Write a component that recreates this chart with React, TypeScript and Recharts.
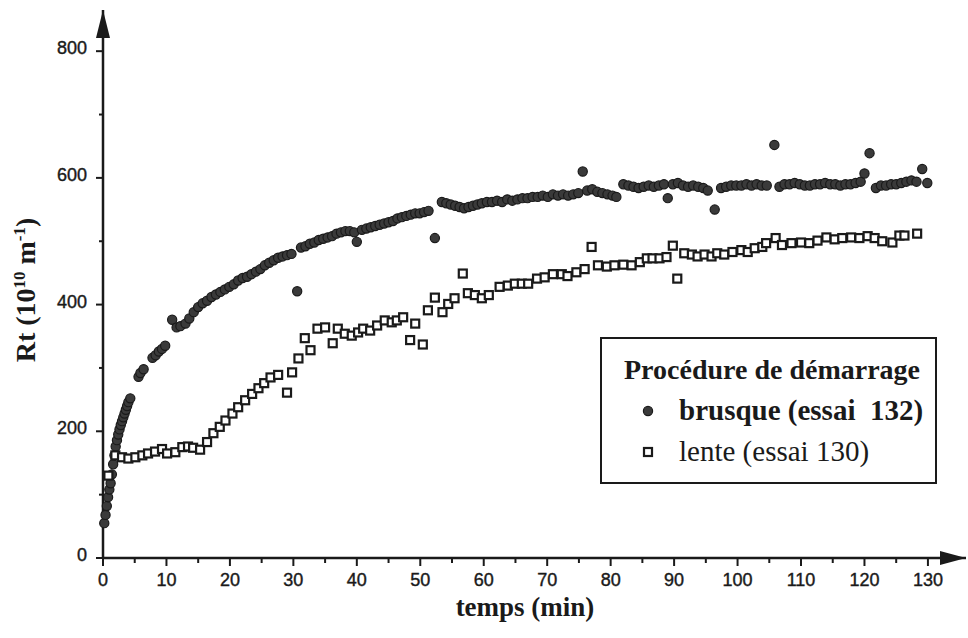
import { ScatterChart, Scatter, XAxis, YAxis, Legend, ReferenceDot } from 'recharts';

// ── Données (t en min, Rt en 10^10 m-1) ────────────────────────────

const X_TICKS = [0, 5, 10, 15, 20, 25, 30, 35, 40, 45, 50, 55, 60, 65, 70, 75, 80, 85, 90, 95, 100, 105, 110, 115, 120, 125, 130];
const Y_TICKS = [0, 100, 200, 300, 400, 500, 600, 700, 800];
const X_MAX = 136;
const Y_MAX = 865;

// démarrage brusque (essai 132)
const brusque: [number, number][] = [
  [0.2, 55], [0.4, 68], [0.6, 82], [0.8, 96], [1.0, 108], [1.2, 118], [1.4, 132], [1.6, 148],
  [1.8, 162], [2.0, 176], [2.2, 186], [2.4, 195], [2.6, 203], [2.8, 210], [3.0, 216], [3.2, 222],
  [3.4, 228], [3.6, 234], [3.8, 240], [4.0, 246], [4.3, 252],
  [5.6, 286], [5.9, 292], [6.4, 298], [7.8, 316], [8.3, 320], [8.8, 326], [9.3, 330], [9.8, 335],
  [10.9, 376], [11.6, 364], [12.2, 366], [13.0, 370], [13.6, 378], [14.3, 388], [15.0, 396],
  [15.7, 402], [16.4, 406], [17.1, 412], [17.8, 416], [18.5, 420], [19.2, 424], [19.9, 428],
  [20.6, 432], [21.3, 438], [22.0, 442], [22.7, 444], [23.4, 448], [24.1, 452], [24.8, 456],
  [25.5, 462], [26.2, 466], [26.9, 470], [27.6, 474], [28.3, 476], [29.0, 478], [29.7, 480],
  [30.6, 421], [31.2, 490], [31.9, 492], [32.6, 496], [33.3, 498], [34.0, 502], [34.7, 504],
  [35.4, 506], [36.1, 508], [36.8, 512], [37.5, 514], [38.2, 516], [38.9, 516], [39.6, 514],
  [40.0, 499], [40.8, 518], [41.5, 520], [42.2, 522], [42.9, 524], [43.6, 526], [44.3, 528],
  [45.0, 530], [45.7, 532], [46.4, 536], [47.1, 538], [47.8, 540], [48.5, 542], [49.2, 544],
  [49.9, 544], [50.6, 546], [51.3, 548], [52.3, 505], [53.4, 562], [54.1, 560], [54.8, 558],
  [55.5, 556], [56.2, 554], [56.9, 552], [57.6, 554], [58.3, 556], [59.0, 558], [59.7, 560],
  [60.5, 562], [61.3, 562], [62.1, 564], [62.9, 562], [63.7, 566], [64.5, 564], [65.3, 566],
  [66.1, 568], [66.9, 568], [67.7, 570], [68.5, 570], [69.3, 572], [70.1, 570], [70.9, 574],
  [71.7, 572], [72.5, 574], [73.3, 572], [74.1, 574], [74.9, 576], [75.6, 610], [76.3, 580],
  [77.1, 582], [77.9, 578], [78.7, 576], [79.5, 574], [80.3, 572], [80.9, 570], [82.0, 590],
  [82.8, 588], [83.6, 586], [84.4, 584], [85.2, 586], [86.0, 588], [86.8, 586], [87.6, 588],
  [88.4, 590], [89.0, 568], [89.8, 590], [90.6, 592], [91.4, 588], [92.2, 586], [93.0, 588],
  [93.8, 586], [94.6, 584], [95.3, 580], [96.4, 550], [97.4, 584], [98.2, 586], [99.0, 588],
  [99.8, 588], [100.6, 588], [101.4, 590], [102.2, 588], [103.0, 590], [103.8, 588], [104.6, 588],
  [105.8, 652], [106.6, 586], [107.4, 590], [108.2, 590], [109.0, 592], [109.8, 590], [110.6, 588],
  [111.4, 588], [112.2, 590], [113.0, 590], [113.8, 592], [114.6, 590], [115.4, 590], [116.2, 588],
  [117.0, 590], [117.8, 590], [118.6, 592], [119.4, 594], [120.0, 607], [120.8, 639], [121.8, 584],
  [122.6, 588], [123.4, 588], [124.2, 590], [125.0, 590], [125.8, 592], [126.6, 594], [127.4, 596],
  [128.2, 594], [129.1, 614], [129.9, 592],
];

// démarrage lent (essai 130)
const lente: [number, number][] = [
  [0.85, 130], [1.95, 162], [3.0, 159], [4.0, 157], [5.1, 159], [6.2, 162], [7.1, 165], [8.2, 168],
  [9.3, 172], [10.1, 165], [11.4, 167], [12.5, 175], [13.4, 176], [14.2, 174], [15.3, 171],
  [16.4, 183], [17.4, 197], [18.4, 207], [19.3, 217], [20.4, 228], [21.3, 238], [22.4, 249],
  [23.5, 259], [24.5, 268], [25.4, 276], [26.4, 285], [27.6, 289], [29.0, 261], [29.8, 293],
  [30.8, 315], [31.8, 347], [32.7, 328], [33.8, 362], [35.0, 364], [36.2, 339], [37.0, 362],
  [38.1, 354], [39.2, 351], [40.2, 356], [41.0, 362], [42.1, 359], [43.2, 367], [44.4, 375],
  [45.5, 372], [46.3, 375], [47.3, 380], [48.4, 344], [49.2, 370], [50.4, 337], [51.2, 391],
  [52.3, 411], [53.5, 388], [54.4, 401], [55.4, 410], [56.7, 449], [57.5, 418], [58.6, 415],
  [59.7, 410], [60.8, 415], [62.5, 428], [63.8, 430], [64.9, 433], [66.0, 433], [67.0, 433],
  [68.4, 441], [69.6, 443], [70.9, 448], [72.3, 448], [73.2, 445], [74.6, 451], [75.9, 456],
  [77.0, 491], [78.0, 462], [79.4, 460], [80.6, 462], [82.0, 463], [83.3, 462], [84.6, 467],
  [85.7, 473], [86.6, 473], [87.7, 473], [88.8, 475], [89.8, 493], [90.5, 441], [91.6, 481],
  [92.8, 479], [93.7, 476], [94.8, 479], [95.9, 476], [96.8, 481], [97.9, 479], [99.2, 483],
  [100.6, 486], [101.6, 483], [102.7, 489], [103.9, 491], [104.5, 497], [106.0, 505], [107.0, 494],
  [108.5, 497], [110.0, 498], [111.3, 497], [112.6, 501], [114.0, 506], [115.3, 503], [116.5, 505],
  [117.9, 506], [119.2, 505], [120.5, 508], [121.6, 505], [122.8, 500], [124.4, 498], [125.5, 509],
  [126.3, 509], [128.3, 512],
];

// ── Styles ─────────────────────────────────────────────────

const INK = '#1a1a1a';
const SERIF = '"Liberation Serif", "Times New Roman", serif';
const SANS = '"Liberation Sans", Arial, sans-serif';

const toPoints = (pairs: [number, number][]) => pairs.map(([t, rt]) => ({ t, rt }));

// ── Marqueurs ──────────────────────────────────────────────

const Dot = ({ cx, cy }: any) => (
  <circle cx={cx} cy={cy} r={4.6} fill="#3a3a3a" stroke={INK} strokeWidth={1.2} />
);

const Square = ({ cx, cy }: any) => (
  <rect x={cx - 4} y={cy - 4} width={8} height={8} fill="#fff" stroke={INK} strokeWidth={2.2} />
);

// ── Graduations ────────────────────────────────────────────

function XTick({ x, y, payload }: any) {
  const major = payload.value % 10 === 0;
  return (
    <g>
      <line x1={x} x2={x} y1={y} y2={y + (major ? 8 : 5)} stroke={INK} strokeWidth={2} />
      {major && (
        <text
          x={x}
          y={y + 28}
          textAnchor="middle"
          fontFamily={SANS}
          fontSize={18}
          fill={INK}
          stroke={INK}
          strokeWidth={0.4}
        >
          {payload.value}
        </text>
      )}
    </g>
  );
}

function YTick({ x, y, payload }: any) {
  const major = payload.value % 200 === 0;
  return (
    <g>
      <line x1={x - (major ? 7 : 4)} x2={x} y1={y} y2={y} stroke={INK} strokeWidth={2} />
      {major && (
        <text
          x={x - 16}
          y={y + 3}
          textAnchor="end"
          fontFamily={SANS}
          fontSize={18}
          fill={INK}
          stroke={INK}
          strokeWidth={0.4}
        >
          {payload.value}
        </text>
      )}
    </g>
  );
}

// ── Titres d'axes ──────────────────────────────────────────

function YTitle({ viewBox }: any) {
  const cx = 35;
  const cy = viewBox.y + viewBox.height / 2 + 6;
  return (
    <text
      x={cx}
      y={cy}
      transform={`rotate(-90 ${cx} ${cy})`}
      textAnchor="middle"
      fontFamily={SERIF}
      fontWeight="bold"
      fontSize={28}
      fill={INK}
    >
      Rt (10
      <tspan fontSize={17} dy={-10}>10</tspan>
      <tspan dy={10}> m</tspan>
      <tspan fontSize={17} dy={-10}>-1</tspan>
      <tspan dy={10}>)</tspan>
    </text>
  );
}

function XTitle() {
  return (
    <text x={525} y={616} textAnchor="middle" fontFamily={SERIF} fontWeight="bold" fontSize={27} fill={INK}>
      temps (min)
    </text>
  );
}

// ── Flèches des axes ───────────────────────────────────────

const ArrowRight = ({ cx, cy }: any) => (
  <polygon points={`${cx},${cy} ${cx - 26},${cy - 7} ${cx - 26},${cy + 7}`} fill={INK} />
);

const ArrowUp = ({ cx, cy }: any) => (
  <polygon points={`${cx},${cy} ${cx - 7},${cy + 28} ${cx + 7},${cy + 28}`} fill={INK} />
);

// ── Légende ────────────────────────────────────────────────

function LegendBox() {
  const row = { height: 41, display: 'flex', alignItems: 'center', whiteSpace: 'nowrap' } as const;
  return (
    <div
      style={{
        width: 337,
        height: 147,
        boxSizing: 'border-box',
        border: `2px solid ${INK}`,
        background: '#fff',
        padding: '10px 0 0 22px',
        fontFamily: SERIF,
        fontSize: 29,
        color: INK,
      }}
    >
      <div style={{ ...row, fontWeight: 'bold', fontSize: 28 }}>Procédure de démarrage</div>
      <div style={{ ...row, fontWeight: 'bold' }}>
        <svg width={55} height={20}>
          <circle cx={24} cy={10} r={4.6} fill="#3a3a3a" stroke={INK} strokeWidth={1.2} />
        </svg>
        brusque (essai&nbsp;&nbsp;132)
      </div>
      <div style={row}>
        <svg width={55} height={20}>
          <rect x={20} y={6} width={8} height={8} fill="#fff" stroke={INK} strokeWidth={2.2} />
        </svg>
        lente (essai 130)
      </div>
    </div>
  );
}

// ── Composant ──────────────────────────────────────────────

export default function App() {
  return (
    <div style={{ position: 'absolute', left: 0, top: 0, width: 968, height: 638, background: '#fff' }}>
      <ScatterChart width={968} height={638} margin={{ top: 10, right: 2, bottom: 0, left: 0 }}>
        <XAxis
          type="number"
          dataKey="t"
          domain={[0, X_MAX]}
          ticks={X_TICKS}
          interval={0}
          tick={XTick}
          tickLine={false}
          tickSize={0}
          tickMargin={0}
          axisLine={{ stroke: INK, strokeWidth: 2.5 }}
          height={80}
          label={<XTitle />}
        />
        <YAxis
          type="number"
          dataKey="rt"
          domain={[0, Y_MAX]}
          ticks={Y_TICKS}
          interval={0}
          tick={YTick}
          tickLine={false}
          tickSize={0}
          tickMargin={0}
          axisLine={{ stroke: INK, strokeWidth: 2.5 }}
          width={103}
          label={<YTitle />}
        />
        <Scatter name="brusque" data={toPoints(brusque)} shape={Dot} isAnimationActive={false} />
        <Scatter name="lente" data={toPoints(lente)} shape={Square} isAnimationActive={false} />
        <ReferenceDot x={X_MAX} y={0} r={0} ifOverflow="visible" shape={ArrowRight} />
        <ReferenceDot x={0} y={Y_MAX} r={0} ifOverflow="visible" shape={ArrowUp} />
        <Legend
          layout="vertical"
          align="center"
          verticalAlign="middle"
          content={<LegendBox />}
          wrapperStyle={{ left: 600, top: 337, width: 337 }}
        />
      </ScatterChart>
    </div>
  );
}
